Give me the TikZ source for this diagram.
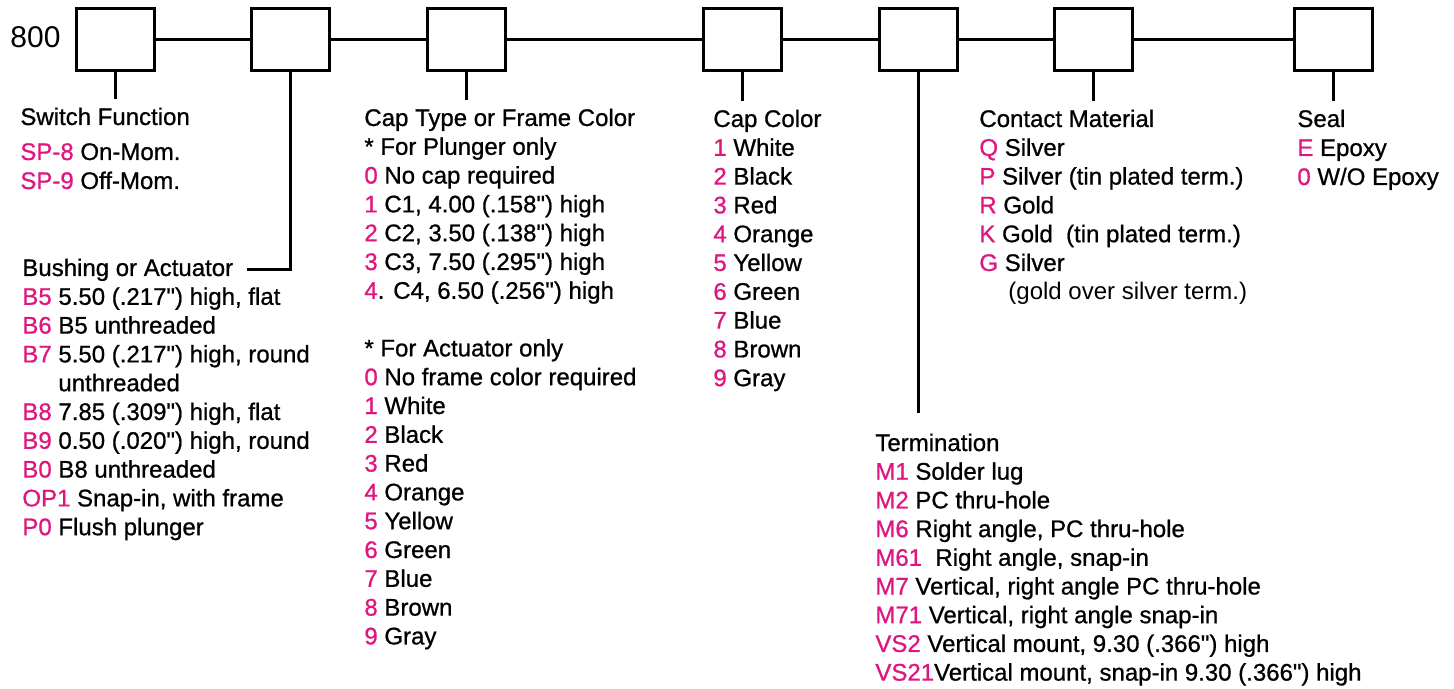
\documentclass[tikz,border=0pt]{standalone}
\usepackage{xcolor}
\usepackage{fontspec}
\setmainfont{Liberation Sans}[FakeBold=0.8, Ligatures=TeXOff]
\newfontfamily\plainfont{Liberation Sans}[Ligatures=TeXOff]
\usepackage{tikz}
\usetikzlibrary{positioning,calc}

\definecolor{codepink}{RGB}{222,22,127}
\newcommand{\code}[1]{\textcolor{codepink}{#1}}

\tikzset{
  optbox/.style={draw, line width=1.5pt, minimum width=39pt, minimum height=31pt, inner sep=0pt},
  lead/.style={line width=1.5pt},
  head/.style={anchor=base west, inner xsep=0pt, inner ysep=4pt, font=\fontsize{12}{14.4}\selectfont},
  entry/.style={anchor=base west, inner sep=0pt, font=\fontsize{12}{14.4}\selectfont},
}

\begin{document}
\begin{tikzpicture}[x=0.5pt, y=-0.5pt]
    \useasboundingbox (0,0) rectangle (1454,689);

    % part number boxes
    \node[anchor=base west, inner sep=0pt, font=\plainfont\fontsize{15}{18}\selectfont] (pre) at (10,48) {800};
    \foreach \n/\x in {1/115.5, 2/290.5, 3/466, 4/742.5, 5/918, 6/1093.5, 7/1333.5}
        \node[optbox] (b\n) at (\x,40) {};
    \foreach \a/\b in {1/2, 2/3, 3/4, 4/5, 5/6, 6/7}
        \draw[lead] (b\a.east) -- (b\b.west);

    % switch function
    \node[head] (fnhd) at (20,125) {Switch Function};
    \foreach \c/\t [count=\i] in {SP-8/On-Mom., SP-9/Off-Mom.}
        \node[entry] (fn\i) at (20,{131+29*\i}) {\code{\c} \t};

    % bushing or actuator
    \node[head] (bushhd) at (22,276) {Bushing or Actuator};
    \foreach \r/\c/\t in {1/B5/{5.50 (.217") high, flat}, 2/B6/{B5 unthreaded},
                          3/B7/{5.50 (.217") high, round}, 5/B8/{7.85 (.309") high, flat},
                          6/B9/{0.50 (.020") high, round}, 7/B0/{B8 unthreaded},
                          8/OP1/{Snap-in, with frame}, 9/P0/{Flush plunger}}
        \node[entry] (bush\r) at (22,{276+28.8*\r}) {\code{\c} \t};
    \node[entry] (bush4) at (22,{276+28.8*4}) {\hphantom{B7\ }unthreaded};

    % cap type or frame color
    \node[head] (caphd) at (364,126) {Cap Type or Frame Color};
    \node[entry] (capnote1) at (364,{126+28.8}) {* For Plunger only};
    \foreach \c/\t [count=\i from 2] in {0/{No cap required}, 1/{C1, 4.00 (.158") high},
                                          2/{C2, 3.50 (.138") high}, 3/{C3, 7.50 (.295") high},
                                          4\textcolor{black}{.}/{C4, 6.50 (.256") high}}
        \node[entry] (cap\i) at (364,{126+28.8*\i}) {\code{\c} \t};
    \node[entry] (capnote2) at (364,{126+28.8*8}) {* For Actuator only};
    \foreach \c/\t [count=\i from 9] in {0/{No frame color required}, 1/White, 2/Black, 3/Red,
                                          4/Orange, 5/Yellow, 6/Green, 7/Blue, 8/Brown, 9/Gray}
        \node[entry] (cap\i) at (364,{126+28.8*\i}) {\code{\c} \t};

    % cap color
    \node[head] (colhd) at (713,127) {Cap Color};
    \foreach \c/\t [count=\i] in {1/White, 2/Black, 3/Red, 4/Orange, 5/Yellow,
                                  6/Green, 7/Blue, 8/Brown, 9/Gray}
        \node[entry] (col\i) at (713,{127+28.8*\i}) {\code{\c} \t};

    % termination
    \node[head] (termhd) at (875,451) {Termination};
    \foreach \c/\t [count=\i] in {M1/{Solder lug}, M2/{PC thru-hole}, M6/{Right angle, PC thru-hole},
                                  M61/{\ Right angle, snap-in}, M7/{Vertical, right angle PC thru-hole},
                                  M71/{Vertical, right angle snap-in}, VS2/{Vertical mount, 9.30 (.366") high},
                                  VS21/{\unskip Vertical mount, snap-in 9.30 (.366") high}}
        \node[entry] (term\i) at (875,{451+28.7*\i}) {\code{\c} \t};

    % contact material
    \node[head] (conhd) at (979,127) {Contact Material};
    \foreach \c/\t [count=\i] in {Q/Silver, P/{Silver (tin plated term.)}, R/Gold,
                                  K/{Gold\ \ (tin plated term.)}, G/Silver}
        \node[entry] (con\i) at (979,{127+28.8*\i}) {\code{\c} \t};
    \node[entry, font=\plainfont\fontsize{12}{14.4}\selectfont] (con6) at (1008,{127+28.8*6}) {(gold over silver term.)};

    % seal
    \node[head] (sealhd) at (1297,127) {Seal};
    \foreach \c/\t [count=\i] in {E/Epoxy, 0/{W/O Epoxy}}
        \node[entry] (seal\i) at (1297,{127+29*\i}) {\code{\c} \t};

    % leads from boxes to headings
    \draw[lead] (b1.south) -- (b1.south |- fnhd.north);
    \draw[lead] (b2.south) |- ([xshift=6.5pt]bushhd.east);
    \draw[lead] (b3.south) -- (b3.south |- caphd.north);
    \draw[lead] (b4.south) -- (b4.south |- colhd.north);
    \draw[lead] (b5.south) -- ([yshift=6pt]b5.south |- termhd.north);
    \draw[lead] (b6.south) -- (b6.south |- conhd.north);
    \draw[lead] (b7.south) -- (b7.south |- sealhd.north);
\end{tikzpicture}
\end{document}
